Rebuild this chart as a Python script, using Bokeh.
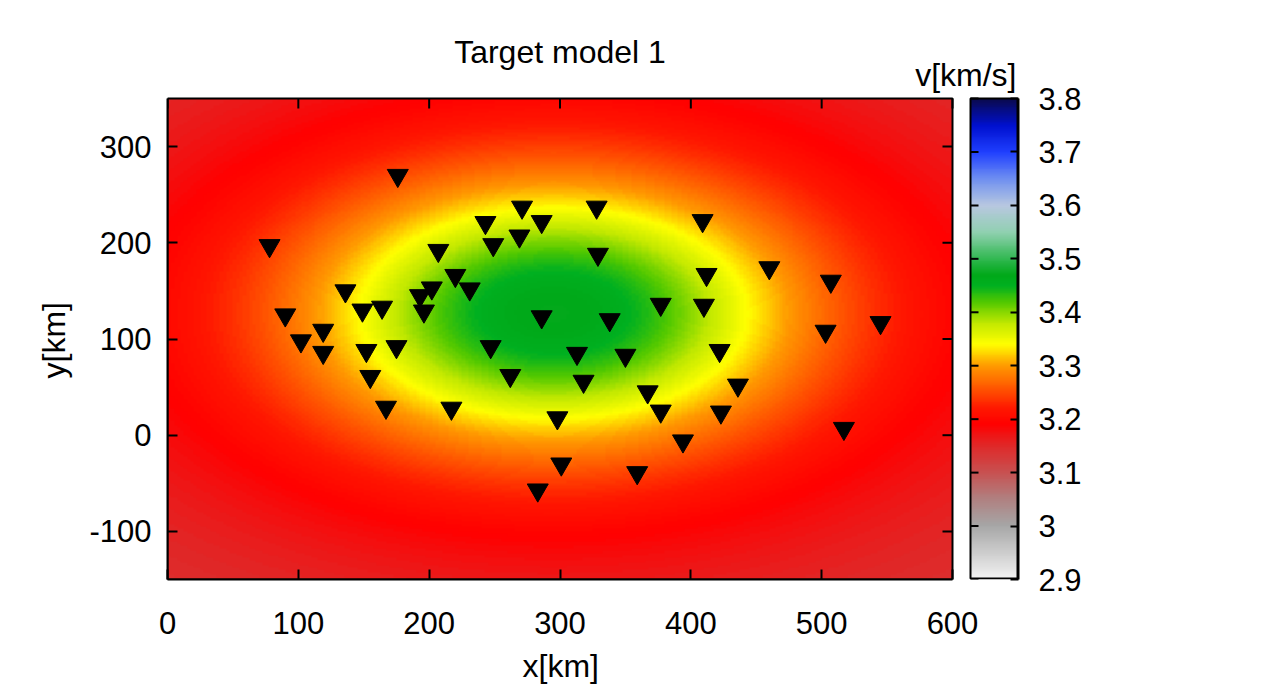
import numpy as np
from bokeh.plotting import figure
from bokeh.models import LinearColorMapper, FixedTicker, Range1d, Label, Title, LinearAxis
from bokeh.embed import file_html
from bokeh.resources import INLINE

# ---- data ----
station_x = [176, 78, 90, 102, 119, 119, 136, 149, 164, 152, 155, 167, 175, 193, 196, 202,
             207, 220, 231, 217, 243, 249, 247, 262, 269, 271, 286, 286, 283, 298, 301, 313,
             318, 328, 329, 338, 350, 359, 367, 377, 377, 394, 409, 412, 410, 422, 423, 436,
             460, 507, 503, 545, 517]
station_y = [270, 197, 125, 98, 109, 86, 150, 130, 133, 88, 61, 29, 92, 145, 129, 153,
             192, 166, 152, 28, 221, 198, 92, 62, 207, 237, 222, 123, -57, 18, -30, 85,
             56, 237, 188, 120, 83, -39, 45, 25, 136, -6, 223, 167, 135, 88, 24, 52,
             174, 160, 108, 117, 7]

x_ticks = [0, 100, 200, 300, 400, 500, 600]
x_tick_labels = ["0", "100", "200", "300", "400", "500", "600"]
y_ticks = [-100, 0, 100, 200, 300]
y_tick_labels = ["-100", "0", "100", "200", "300"]
cb_ticks = [2.9, 3.0, 3.1, 3.2, 3.3, 3.4, 3.5, 3.6, 3.7, 3.8]
cb_labels = ["2.9", "3", "3.1", "3.2", "3.3", "3.4", "3.5", "3.6", "3.7", "3.8"]

# target model: background velocity plus a smooth, flat-topped elliptical anomaly (km/s, km)
v_background = 3.11
v_anomaly = 0.36
anomaly_x0, anomaly_y0 = 295.0, 127.0
anomaly_sx, anomaly_sy = 189.0, 140.0
anomaly_power = 2.4

x_min, x_max = 0, 600
y_min, y_max = -150, 350
v_min, v_max = 2.9, 3.8

# palette colour stops (value, colour)
stop_vals = [2.90, 2.95, 3.00, 3.05, 3.10, 3.15, 3.19, 3.22, 3.26, 3.30, 3.34, 3.38,
             3.42, 3.45, 3.47, 3.50, 3.55, 3.60, 3.65, 3.70, 3.75, 3.80]
stop_cols = ["#f2f2f2", "#cccccc", "#a6a6a6", "#b08080", "#c85050", "#e02828", "#ff0000",
             "#ff1800", "#ff5a00", "#ff9a00", "#ffff00", "#c0e800", "#50c800", "#00b020",
             "#00a818", "#30b850", "#90d0b0", "#b8c8e0", "#7090f0", "#2040ff", "#0010d0",
             "#0a0a50"]

FONT = "Liberation Sans"
TICK_FS = "31px"
LABEL_FS = "32px"

# ---- layout (page pixels) ----
FRAME_TOP = 26                      # frame extends above the map to hold the titles
FL, FT, FB = 167, 98, 579           # map left / top / bottom
MAP_R, CB_L, CB_R = 952, 970, 1018  # map right edge, colour bar left / right
W, H = 1150, 696
kx = (MAP_R - FL) / (x_max - x_min)
ky = (FB - FT) / (y_max - y_min)
kv = (FB - FT) / (v_max - v_min)
x_end = x_min + (CB_R - FL) / kx
cb_x0 = x_min + (CB_L - FL) / kx
y_top = y_max + (FT - FRAME_TOP) / ky
v_top = v_max + (FT - FRAME_TOP) / kv


def hex2rgb(h):
    return [int(h[i:i + 2], 16) for i in (1, 3, 5)]


sv = np.array(stop_vals)
sc = np.array([hex2rgb(c) for c in stop_cols], dtype=float)
lv = np.linspace(v_min, v_max, 256)
palette = []
for v in lv:
    rgb = [np.interp(v, sv, sc[:, k]) for k in range(3)]
    palette.append("#%02x%02x%02x" % tuple(int(round(c)) for c in rgb))

mapper = LinearColorMapper(palette=palette, low=v_min, high=v_max)

nx, ny = 240, 200
gx = np.linspace(x_min, x_max, nx)
gy = np.linspace(y_min, y_max, ny)
GX, GY = np.meshgrid(gx, gy)
r = np.sqrt(((GX - anomaly_x0) / anomaly_sx) ** 2 + ((GY - anomaly_y0) / anomaly_sy) ** 2)
field = v_background + v_anomaly / (1.0 + r ** anomaly_power)

p = figure(width=W, height=H, x_range=Range1d(x_min, x_end), y_range=Range1d(y_min, y_top),
           output_backend="svg", toolbar_location=None, title=None,
           min_border_left=FL, min_border_right=W - CB_R, min_border_top=FRAME_TOP,
           min_border_bottom=H - FB)
p.extra_y_ranges = {"cb": Range1d(v_min, v_top)}
p.grid.visible = False
p.outline_line_color = None
p.background_fill_color = "white"

# map
p.image(image=[field], x=x_min, y=y_min, dw=x_max - x_min, dh=y_max - y_min, color_mapper=mapper)
p.quad(left=[x_min], right=[x_max], bottom=[y_min], top=[y_max], fill_color=None,
       line_color="black", line_width=2)
# mirror ticks of the map (right and top edges)
p.segment(x0=[x_max - 10 / kx] * len(y_ticks), x1=[x_max] * len(y_ticks), y0=y_ticks, y1=y_ticks,
          line_color="black", line_width=2)
p.segment(x0=x_ticks, x1=x_ticks, y0=[y_max] * len(x_ticks), y1=[y_max - 10 / ky] * len(x_ticks),
          line_color="black", line_width=2)
p.scatter(station_x, station_y, marker="inverted_triangle", size=21, color="black")

# colour bar
p.image(image=[lv.reshape(-1, 1)], x=cb_x0, y=v_min, dw=x_end - cb_x0, dh=v_max - v_min,
        color_mapper=mapper, y_range_name="cb")
p.quad(left=[cb_x0], right=[x_end - 1 / kx], bottom=[v_min + 1 / kv], top=[v_max],
       fill_color=None, line_color="black", line_width=2, y_range_name="cb")
p.segment(x0=[cb_x0] * len(cb_ticks), x1=[cb_x0 + 8 / kx] * len(cb_ticks), y0=cb_ticks,
          y1=cb_ticks, line_color="black", line_width=2, y_range_name="cb")


def style_axis(ax, ticks, labels, standoff=16, tick_in=10):
    ax.ticker = FixedTicker(ticks=ticks)
    ax.major_tick_in = tick_in
    ax.major_tick_out = 0
    ax.minor_tick_line_color = None
    ax.major_tick_line_width = 2
    ax.major_tick_line_color = "black"
    ax.axis_line_color = "black"
    ax.axis_line_width = 2
    ax.major_label_text_font = FONT
    ax.major_label_text_color = "black"
    ax.major_label_text_font_size = TICK_FS
    ax.major_label_standoff = standoff
    ax.major_label_overrides = dict(zip(ticks, labels))


xa = p.xaxis[0]
style_axis(xa, x_ticks, x_tick_labels, standoff=32)
xa.bounds = (x_min, x_max)

ya = p.yaxis[0]
style_axis(ya, y_ticks, y_tick_labels, standoff=16)
ya.bounds = (y_min, y_max)

ax_cb = LinearAxis(y_range_name="cb")
style_axis(ax_cb, cb_ticks, cb_labels, standoff=20, tick_in=8)
ax_cb.bounds = (v_min, v_max)
p.add_layout(ax_cb, "right")

# axis titles placed as side titles so they can be centred on the map, not the whole frame
x_title = Title(text="x[km]", align="left", offset=355, vertical_align="top", standoff=22,
                text_font=FONT, text_font_size=LABEL_FS, text_font_style="normal",
                text_color="black")
p.add_layout(x_title, "below")
y_title = Title(text="y[km]", align="left", offset=201, vertical_align="bottom", standoff=30,
                text_font=FONT, text_font_size=LABEL_FS, text_font_style="normal",
                text_color="black")
p.add_layout(y_title, "left")

# titles above the map (inside the extended frame)
p.add_layout(Label(x=(x_min + x_max) / 2, y=y_max + (FT - 51) / ky, text="Target model 1",
                   text_align="center", text_baseline="alphabetic", text_font=FONT,
                   text_font_size=LABEL_FS, text_color="black"))
p.add_layout(Label(x=x_min + (CB_R - 2 - FL) / kx, y=y_max + (FT - 74) / ky, text="v[km/s]",
                   text_align="right", text_baseline="alphabetic", text_font=FONT,
                   text_font_size=LABEL_FS, text_color="black"))

open("out.html", "w").write(file_html(p, INLINE))
